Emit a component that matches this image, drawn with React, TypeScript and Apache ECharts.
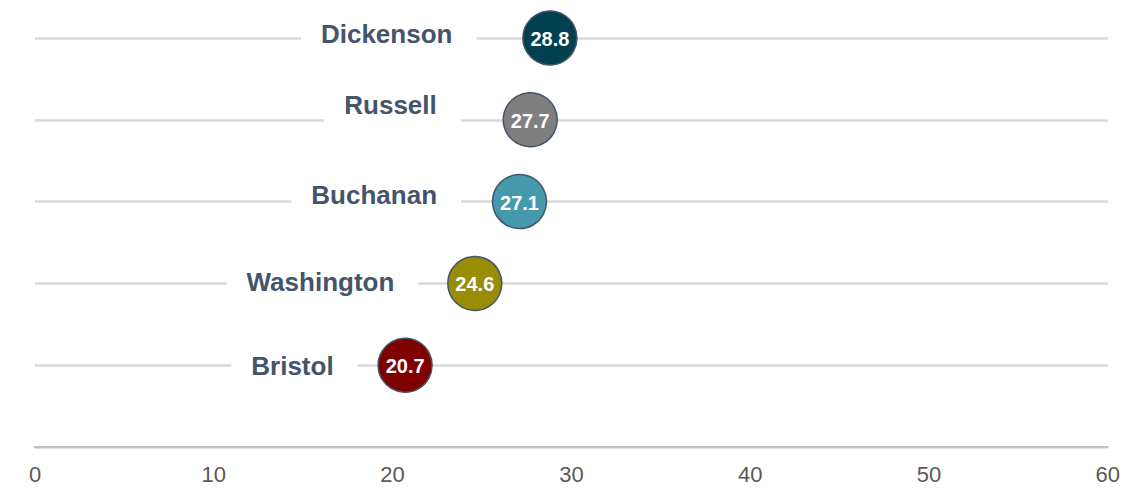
import React, { useEffect, useRef } from "react";
import * as echarts from "echarts";

const counties = ["Dickenson", "Russell", "Buchanan", "Washington", "Bristol"];
const values = [28.8, 27.7, 27.1, 24.6, 20.7];
const rows = [5, 4, 3, 2, 1];
const colors = ["#00404f", "#7f7f7f", "#4499ab", "#9a8d06", "#800000"];
const xTicks = [0, 10, 20, 30, 40, 50, 60];

// label layout (distance from marker centre, vertical shift)
const nameDistance = [73, 69, 58, 56, 47];
const nameShift = [-4, -15, -7, -1, 1];

export default function App() {
  const ref = useRef<HTMLDivElement>(null);
  useEffect(() => {
    document.body.style.margin = "0";
    const chart = echarts.init(ref.current!, null, { renderer: "svg" });
    const font = "'Liberation Sans', Arial, sans-serif";
    chart.setOption({
      animation: false,
      backgroundColor: "#ffffff",
      grid: { left: 35, right: 15, top: 38, bottom: 42, containLabel: false },
      xAxis: {
        type: "value",
        min: xTicks[0],
        max: xTicks[xTicks.length - 1],
        interval: 10,
        axisLine: { show: true, lineStyle: { color: "#bfbfbf", width: 2 } },
        axisTick: { show: false },
        splitLine: { show: false },
        axisLabel: { color: "#595959", fontSize: 22, fontFamily: font, margin: 16 },
      },
      yAxis: {
        type: "value",
        min: 0,
        max: 5,
        interval: 1,
        axisLine: { show: false },
        axisTick: { show: false },
        axisLabel: { show: false },
        splitLine: { show: true, lineStyle: { color: "#d9d9d9", width: 2.5 } },
      },
      series: [
        {
          type: "scatter",
          z: 2,
          symbolSize: 1,
          itemStyle: { color: "rgba(0,0,0,0)", opacity: 1 },
          silent: true,
          data: counties.map((c, i) => ({
            value: [values[i], rows[i]],
            name: c,
            label: { distance: nameDistance[i], offset: [0, nameShift[i]] },
          })),
          label: {
            show: true,
            position: "left",
            formatter: (p: any) => p.name,
            color: "#44546a",
            fontSize: 26,
            fontWeight: "bold",
            fontFamily: font,
            backgroundColor: "#ffffff",
            padding: [6, 24, 6, 20],
            align: "right",
          },
        },
        {
          type: "scatter",
          z: 3,
          symbolSize: 54,
          data: counties.map((c, i) => ({
            value: [values[i], rows[i]],
            name: c,
            itemStyle: { color: colors[i] },
          })),
          itemStyle: { borderColor: "#44546a", borderWidth: 1.5, opacity: 1 },
          label: {
            show: true,
            position: "inside",
            offset: [0, 1],
            formatter: (p: any) => p.value[0].toFixed(1),
            color: "#ffffff",
            fontSize: 20,
            fontWeight: "bold",
            fontFamily: font,
          },
        },
      ],
    });
    return () => chart.dispose();
  }, []);
  return <div ref={ref} style={{ width: 1123, height: 489 }} />;
}
